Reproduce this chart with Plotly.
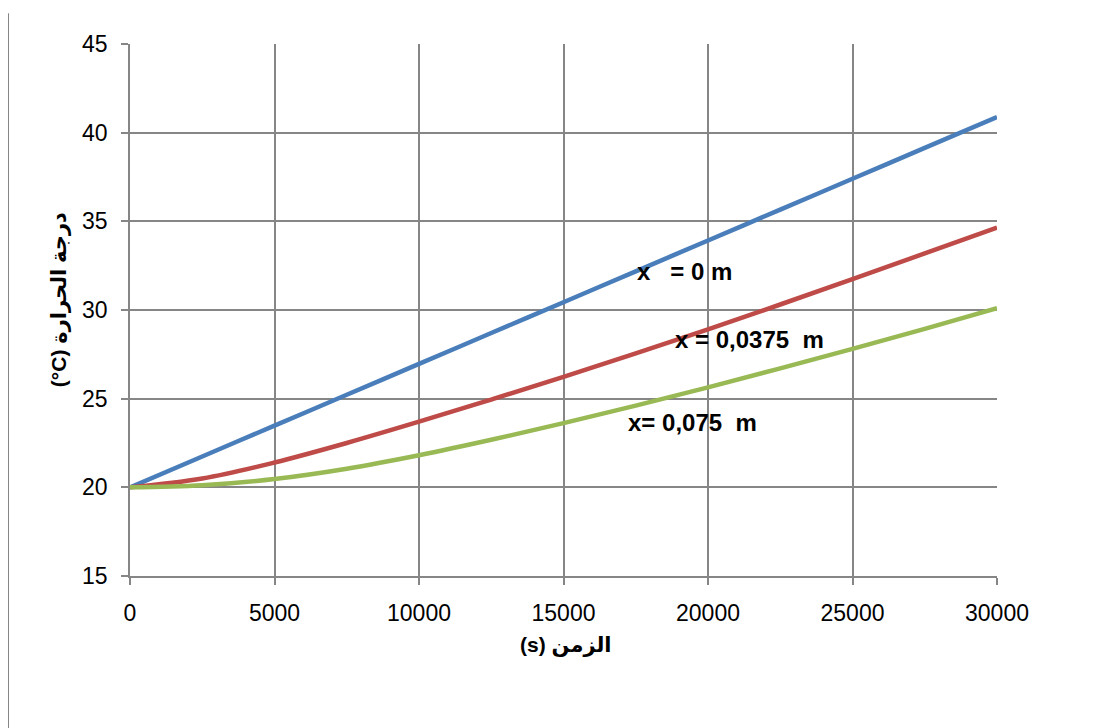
import plotly.graph_objects as go

time_s = [0, 2500, 5000, 7500, 10000, 12500, 15000, 17500, 20000, 22500, 25000, 27500, 30000]
temp_x0 = [20, 21.74, 23.48, 25.22, 26.96, 28.7, 30.44, 32.18, 33.92, 35.66, 37.4, 39.14, 40.88]
temp_x00375 = [20, 20.5, 21.4, 22.5, 23.7, 24.95, 26.23, 27.55, 28.91, 30.31, 31.74, 33.19, 34.65]
temp_x0075 = [20, 20.12, 20.47, 21.05, 21.81, 22.68, 23.62, 24.61, 25.64, 26.71, 27.81, 28.94, 30.1]

series_names = ["x = 0 m", "x = 0,0375 m", "x = 0,075 m"]
colors = ["#4A7EBB", "#BE4B48", "#98B954"]

x_ticks = [0, 5000, 10000, 15000, 20000, 25000, 30000]
y_ticks = [15, 20, 25, 30, 35, 40, 45]

label_texts = ["x\u00a0\u00a0\u00a0= 0 m", "x = 0,0375\u00a0 m", "x= 0,075\u00a0 m"]
label_x = [19170, 21420, 19450]
label_y = [32.15, 28.36, 23.63]

fig = go.Figure()
for name, ys, c in zip(series_names, [temp_x0, temp_x00375, temp_x0075], colors):
    fig.add_trace(go.Scatter(x=time_s, y=ys, mode="lines", name=name,
                             line=dict(color=c, width=4.5, shape="spline"),
                             showlegend=False))

font_main = "Liberation Sans, DejaVu Sans, sans-serif"

for t, xx, yy in zip(label_texts, label_x, label_y):
    fig.add_annotation(x=xx, y=yy, xref="x", yref="y", text="<b>" + t + "</b>",
                       showarrow=False, font=dict(size=24, color="black", family=font_main),
                       xanchor="center", yanchor="middle")

# axis titles
fig.add_annotation(x=-0.081, y=0.52, xref="paper", yref="paper",
                   text="<b>(°C) درجة الحرارة</b>", textangle=-90, showarrow=False,
                   font=dict(size=21, color="black", family=font_main),
                   xanchor="center", yanchor="middle")
fig.add_annotation(x=0.503, y=-0.13, xref="paper", yref="paper",
                   text="<b>(s) الزمن</b>", showarrow=False,
                   font=dict(size=21, color="black", family=font_main),
                   xanchor="center", yanchor="middle")

# left border line of the frame
fig.add_shape(type="line", xref="paper", yref="paper",
              x0=-0.1407, x1=-0.1407, y0=-0.31, y1=1.058,
              line=dict(color="#868686", width=2))

axis_common = dict(showgrid=True, gridcolor="#868686", gridwidth=1.5,
                   showline=True, linecolor="#868686", linewidth=1.5,
                   ticks="outside", ticklen=7, tickcolor="#868686", tickwidth=1.5,
                   zeroline=False, ticklabelstandoff=9,
                   tickfont=dict(size=23, color="black", family=font_main))

fig.update_xaxes(range=[0, 30000], tickvals=x_ticks, ticktext=[str(v) for v in x_ticks],
                 **axis_common)
fig.update_yaxes(range=[15, 45], tickvals=y_ticks, **axis_common)

fig.update_layout(width=1109, height=728,
                  margin=dict(l=122, r=120, t=36, b=160),
                  plot_bgcolor="white", paper_bgcolor="white")

fig.write_html("out.html")
